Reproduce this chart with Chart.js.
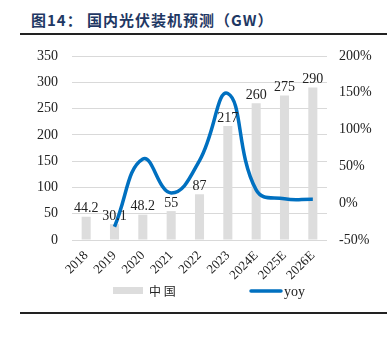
<!DOCTYPE html>
<html lang="zh">
<head>
<meta charset="utf-8">
<script src="https://cdn.jsdelivr.net/npm/chart.js@4.4.0/dist/chart.umd.min.js"></script>
<style>
  body { margin: 0; background: #fff; }
  #wrap { position: relative; width: 387px; height: 347px; overflow: hidden; }
  #title { position: absolute; left: 31px; top: 9px; font: bold 15px "Noto Sans CJK SC", sans-serif; color: #1f3864; letter-spacing: 1px; white-space: nowrap; }
  .rule { position: absolute; left: 20px; width: 367px; height: 2px; background: #222; }
  canvas { position: absolute; left: 0; top: 0; }
</style>
</head>
<body>
<div id="wrap">
  <div id="title">图14： 国内光伏装机预测（GW）</div>
  <div class="rule" style="top:33px"></div>
  <canvas id="chart" width="387" height="347"></canvas>
  <div class="rule" style="top:312px"></div>
</div>
<script>
// data
const years = ['2018', '2019', '2020', '2021', '2022', '2023', '2024E', '2025E', '2026E'];
const installs = [44.2, 30.1, 48.2, 55, 87, 217, 260, 275, 290];
const yoy = [null, -0.32, 0.60, 0.14, 0.58, 1.49, 0.18, 0.06, 0.055];
const leftTicks = [0, 350, 50];
const rightTicks = [-0.5, 2, 0.5];

const serif = '"Liberation Serif", "Times New Roman", serif';

// numbers above the bars
const barLabels = {
  id: 'barLabels',
  afterDatasetsDraw(chart) {
    const ctx = chart.ctx;
    const meta = chart.getDatasetMeta(1);
    ctx.save();
    ctx.font = '14px ' + serif;
    ctx.fillStyle = '#222';
    ctx.textAlign = 'center';
    ctx.textBaseline = 'bottom';
    meta.data.forEach((bar, i) => {
      ctx.fillText(String(installs[i]), bar.x, bar.y - 1);
    });
    ctx.restore();
  }
};

// legend drawn by hand so the two items can sit far apart
const legendBox = {
  id: 'legendBox',
  afterDraw(chart) {
    const ctx = chart.ctx;
    const y = 290;
    ctx.save();
    ctx.fillStyle = chart.data.datasets[1].backgroundColor;
    ctx.fillRect(113, y - 3, 30, 7);
    ctx.strokeStyle = chart.data.datasets[0].borderColor;
    ctx.lineWidth = 3.5;
    ctx.lineCap = 'round';
    ctx.beginPath();
    ctx.moveTo(251, y + 1);
    ctx.lineTo(281, y + 1);
    ctx.stroke();
    ctx.fillStyle = '#222';
    ctx.textBaseline = 'middle';
    ctx.font = '12px "Noto Sans CJK SC", sans-serif';
    ctx.fillText('中 国', 149, y + 1);
    ctx.font = '14px ' + serif;
    ctx.fillText('yoy', 284, y + 2);
    ctx.restore();
  }
};

new Chart(document.getElementById('chart'), {
  data: {
    labels: years,
    datasets: [
      {
        type: 'line',
        label: 'yoy',
        data: yoy,
        yAxisID: 'y1',
        borderColor: '#0070c0',
        borderWidth: 3.5,
        tension: 0.45,
        pointRadius: 0,
        fill: false,
        order: 0
      },
      {
        type: 'bar',
        label: '中国',
        data: installs,
        yAxisID: 'y',
        backgroundColor: '#dddddd',
        barPercentage: 0.32,
        categoryPercentage: 1,
        order: 1
      }
    ]
  },
  options: {
    responsive: false,
    animation: false,
    layout: { padding: { top: 56, bottom: 64, left: 0, right: 0 } },
    plugins: { legend: { display: false }, tooltip: { enabled: false } },
    scales: {
      x: {
        grid: { display: false },
        border: { display: false },
        ticks: { minRotation: 45, maxRotation: 45, color: '#222', font: { family: serif, size: 13 }, padding: 0 },
        afterFit(s) { s.height = 43; }
      },
      y: {
        position: 'left',
        min: leftTicks[0], max: leftTicks[1],
        ticks: { stepSize: leftTicks[2], color: '#222', font: { family: serif, size: 14 }, padding: 14 },
        grid: { color: '#d9d9d9', lineWidth: 1, drawTicks: false },
        border: { display: false },
        afterFit(s) { s.width = 72; }
      },
      y1: {
        position: 'right',
        min: rightTicks[0], max: rightTicks[1],
        ticks: {
          stepSize: rightTicks[2], color: '#222', font: { family: serif, size: 14 }, padding: 12,
          callback: v => Math.round(v * 100) + '%'
        },
        grid: { display: false, drawTicks: false },
        border: { display: false },
        afterFit(s) { s.width = 60; }
      }
    }
  },
  plugins: [barLabels, legendBox]
});
</script>
</body>
</html>
